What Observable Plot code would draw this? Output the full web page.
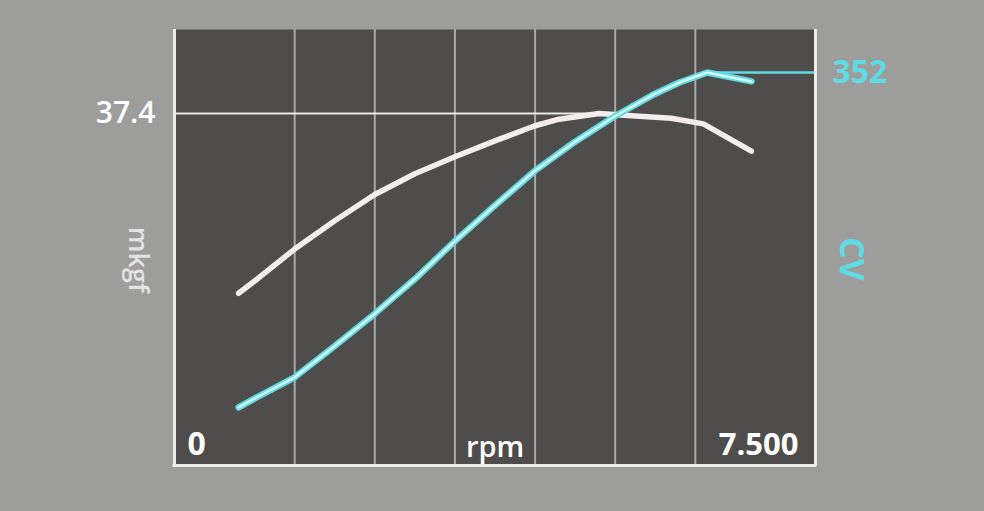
<!DOCTYPE html>
<html>
<head>
<meta charset="utf-8">
<script src="https://cdn.jsdelivr.net/npm/d3@7"></script>
<script src="https://cdn.jsdelivr.net/npm/@observablehq/plot@0.6"></script>
<style>
  html, body { margin: 0; padding: 0; background: #9d9d9b; }
  #chart { width: 984px; height: 511px; }
  svg { display: block; }
</style>
</head>
<body>
<div id="chart"></div>
<script>
// ---- data ----
const rpmTorque = [800, 1000, 1500, 2000, 2500, 3000, 3500, 4000, 4500, 4800, 5300, 5800, 6200, 6600, 7200];
const torqueMkgf = [18.3, 19.6, 23.0, 26.0, 28.8, 31.0, 32.8, 34.5, 36.1, 36.8, 37.4, 37.1, 36.9, 36.3, 33.4];
const rpmPower = [800, 1000, 1500, 2000, 2500, 3000, 3500, 4000, 4500, 5000, 5500, 6000, 6300, 6650, 7200];
const powerCV = [52, 60, 79, 107, 136, 167, 201, 233, 264, 290, 313, 333, 343, 352, 344];
const gridRpm = [1500, 2500, 3500, 4500, 5500, 6500];
const xDomain = [0, 8000];
const torqueMax = 46.33;   // top of plot in mkgf
const powerMax = 390.5;    // top of plot in CV
const peakTorque = 37.4, peakTorqueRpm = 5300;
const peakPower = 352, peakPowerRpm = 6650;
const xLabels = ["0", "rpm", "7.500"];
const axisTitles = ["mkgf", "CV"];

const torque = rpmTorque.map((r, i) => ({rpm: r, v: torqueMkgf[i] / torqueMax}));
const power = rpmPower.map((r, i) => ({rpm: r, v: powerCV[i] / powerMax}));

const WHITE = "#f3eded", CYAN = "#5fdbe4", GRID = "#a9aaa8";
const font = "'Open Sans', 'DejaVu Sans', sans-serif";

const chart = Plot.plot({
  width: 984, height: 511,
  marginLeft: 174, marginRight: 169, marginTop: 29, marginBottom: 46,
  style: {background: "transparent", fontFamily: font, overflow: "visible"},
  x: {domain: xDomain, axis: null},
  y: {domain: [0, 1], axis: null},
  marks: [
    Plot.frame({fill: "#4e4d4b", stroke: null}),
    Plot.ruleX(gridRpm, {stroke: GRID, strokeWidth: 2}),
    // reference lines
    Plot.ruleY([peakTorque / torqueMax], {x1: 0, x2: peakTorqueRpm, stroke: "#e8e8e6", strokeWidth: 2}),
    Plot.ruleY([peakPower / powerMax], {x1: peakPowerRpm, x2: xDomain[1], stroke: CYAN, strokeWidth: 2.5}),
    // curves
    Plot.line(torque, {x: "rpm", y: "v", stroke: WHITE, strokeWidth: 5.5, strokeLinecap: "round", strokeLinejoin: "round"}),
    Plot.line(power, {x: "rpm", y: "v", stroke: CYAN, strokeWidth: 6.5, strokeLinecap: "round", strokeLinejoin: "round"}),
    Plot.line(power, {x: "rpm", y: "v", stroke: "#d6fbfc", strokeWidth: 2.5, strokeLinecap: "round", strokeLinejoin: "round"}),
    // frame borders (left, right, bottom)
    Plot.ruleX(xDomain, {stroke: "#eeeeec", strokeWidth: 3, y1: 0, y2: 1}),
    Plot.ruleY([0], {stroke: "#eeeeec", strokeWidth: 3, x1: xDomain[0], x2: xDomain[1], insetLeft: -1.5, insetRight: -1.5}),
    // bottom labels
    Plot.text([xLabels[0]], {x: xDomain[0], y: 0, text: d => d, textAnchor: "start", lineAnchor: "bottom", dx: 13, dy: -11, fill: "#ffffff", fontSize: 32, fontWeight: 700}),
    Plot.text([xLabels[1]], {x: 4000, y: 0, text: d => d, textAnchor: "middle", lineAnchor: "bottom", dy: -9, fill: "#ffffff", fontSize: 29, fontWeight: 600}),
    Plot.text([xLabels[2]], {x: xDomain[1], y: 0, text: d => d, textAnchor: "end", lineAnchor: "bottom", dx: -17, dy: -11, fill: "#ffffff", fontSize: 31, fontWeight: 700}),
    // value labels
    Plot.text([String(peakTorque)], {x: 0, y: peakTorque / torqueMax, text: d => d, textAnchor: "end", lineAnchor: "middle", dx: -19, fill: "#ffffff", fontSize: 30, fontWeight: 600}),
    Plot.text([String(peakPower)], {x: xDomain[1], y: peakPower / powerMax, text: d => d, textAnchor: "start", lineAnchor: "middle", dx: 17, fill: CYAN, fontSize: 32, fontWeight: 700}),
    // axis titles
    Plot.text([axisTitles[0]], {x: 0, y: 0.472, text: d => d, rotate: 90, textAnchor: "middle", lineAnchor: "middle", dx: -37, fill: "#e4e2e2", fontSize: 27, fontWeight: 600}),
    Plot.text([axisTitles[1]], {x: xDomain[1], y: 0.474, text: d => d, rotate: 90, textAnchor: "middle", lineAnchor: "middle", dx: 35, fill: CYAN, fontSize: 34, fontWeight: 700})
  ]
});
document.getElementById("chart").appendChild(chart);
</script>
</body>
</html>
